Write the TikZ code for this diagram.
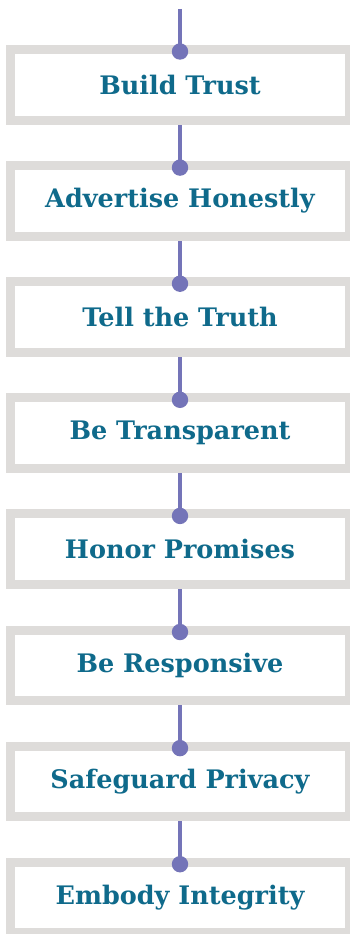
\documentclass[tikz,border=0pt]{standalone}
\usepackage{fontspec}
\setmainfont{DejaVu Serif}
\usetikzlibrary{backgrounds}
\definecolor{boxgray}{HTML}{DEDCDA}
\definecolor{linkpurple}{HTML}{7474B8}
\definecolor{textteal}{HTML}{0F6A8B}
\begin{document}
\begin{tikzpicture}[x=1pt,y=1pt,
  stepbox/.style={draw=boxgray, line width=9pt, fill=white, minimum width=339pt, minimum height=70.5pt,
    inner sep=0pt, outer sep=0pt, text=textteal, font=\fontsize{25.5}{30}\selectfont\bfseries},
  link/.style={draw=linkpurple, line width=4.5pt},
  knob/.style={fill=linkpurple}]
\useasboundingbox (0,0) rectangle (350,-934);
\clip (0,0) rectangle (350,-934);
\coordinate (top) at (180,-9);
\foreach \i/\t in {1/Build Trust,2/Advertise Honestly,3/Tell the Truth,4/Be Transparent,5/Honor Promises,6/Be Responsive,7/Safeguard Privacy,8/Embody Integrity}{
  \node[stepbox] (b\i) at (180,{-84.75-116.1*(\i-1)}) {\t};
}
\begin{scope}[on background layer]
  \draw[link] (top) -- (b1.north);
  \foreach \i [evaluate=\i as \j using int(\i+1)] in {1,...,7}{
    \draw[link] (b\i.south) -- (b\j.north);
  }
\end{scope}
\foreach \i in {1,...,8}{
  \fill[knob] ([yshift=-2pt]b\i.north) circle (8.2pt);
}
\end{tikzpicture}
\end{document}
